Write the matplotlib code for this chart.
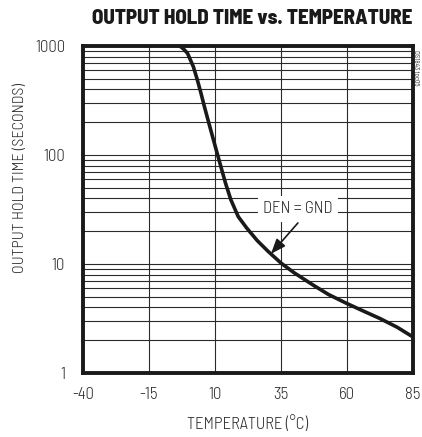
import matplotlib
matplotlib.use("Agg")
import matplotlib.pyplot as plt
from matplotlib.ticker import FixedLocator, LogLocator, NullFormatter

temps = [-5.5, -3.3, -1.8, -0.4, 1.8, 3.3, 4.7, 6.0, 7.7, 9.4, 11.0, 12.5, 14.0, 16.0, 18.8,
         22.0, 26.0, 30.2, 35.0, 40.0, 47.2, 53.0, 59.8, 66.0, 72.5, 79.0, 85.0]
hold = [1100, 1000, 933, 857, 646, 490, 368, 277, 195, 138, 100, 74, 55, 38.9, 27.2,
        21.4, 16.4, 13.0, 10.2, 8.3, 6.4, 5.25, 4.36, 3.72, 3.16, 2.63, 2.14]
xticks = [-40, -15, 10, 35, 60, 85]
yticks = [1, 10, 100, 1000]
ytick_labels = ["1", "10", "100", "1000"]

light = ["Barlow Semi Condensed", "DejaVu Sans"]

fig = plt.figure(figsize=(4.22, 4.37), dpi=100)
ax = fig.add_axes([83/422, 1-373/437, (413-83)/422, (373-46)/437])
ax.set_yscale("log")
ax.set_xlim(-40, 85)
ax.set_ylim(1, 1000)

ax.plot(temps, hold, color="#1a1a1a", lw=2.6, solid_joinstyle="round", zorder=3)

ax.xaxis.set_major_locator(FixedLocator(xticks))
ax.yaxis.set_major_locator(FixedLocator(yticks))
ax.yaxis.set_minor_locator(LogLocator(base=10, subs=range(2, 10)))
ax.yaxis.set_minor_formatter(NullFormatter())
ax.set_yticklabels(ytick_labels)
ax.set_xticklabels([str(t) for t in xticks])
ax.grid(True, which="major", axis="x", color="#2a2a2a", lw=0.8)
ax.grid(True, which="both", axis="y", color="#2a2a2a", lw=0.8)
ax.tick_params(which="both", length=0)
ax.tick_params(axis="y", pad=13)
ax.tick_params(axis="x", pad=10)
for lab in ax.get_xticklabels() + ax.get_yticklabels():
    lab.set_family(light)
    lab.set_fontweight(300)
    lab.set_fontsize(12)
    lab.set_color("#2a2a2a")

for s in ax.spines.values():
    s.set_linewidth(2.8)
    s.set_color("#1a1a1a")

ax.set_xlabel("TEMPERATURE (°C)", family=light, fontweight=300, fontsize=12, color="#2a2a2a")
ax.xaxis.set_label_coords(0.498, -0.133)
ax.set_ylabel("OUTPUT HOLD TIME (SECONDS)", family=light, fontweight=300, fontsize=11.5, color="#2a2a2a")
ax.yaxis.set_label_coords(-0.17, 0.596)

fig.text(252/422, 1-19/437, "OUTPUT HOLD TIME vs. TEMPERATURE", ha="center", va="center",
         fontsize=15, fontweight=800, family=["Barlow Semi Condensed", "DejaVu Sans"], color="#1a1a1a")
fig.text(416/422, 1-68/437, "DS1843 toc05", rotation=-90, ha="center", va="center",
         fontsize=5, family=light, color="#333333")

ax.text(41.4, 32, "DEN = GND", ha="center", va="center", family=light, fontweight=300,
        fontsize=12, color="#2a2a2a", zorder=4,
        bbox=dict(boxstyle="square,pad=0.3", fc="white", ec="none"))
ax.annotate("", xy=(31.2, 12.4), xytext=(41.4, 23.8),
            arrowprops=dict(arrowstyle="-|>,head_length=0.9,head_width=0.35", color="#1a1a1a", lw=1.2,
                            shrinkA=0, shrinkB=0),
            zorder=4)

fig.savefig("out.png", dpi=100)
